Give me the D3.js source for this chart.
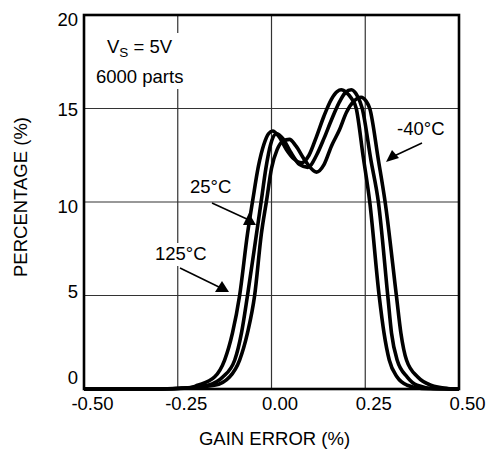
<!DOCTYPE html>
<html>
<head>
<meta charset="utf-8">
<script src="https://cdn.jsdelivr.net/npm/d3@7"></script>
<style>
  body { margin: 0; background: #fff; }
  text { font-family: "Liberation Sans", Arial, sans-serif; fill: #000; }
</style>
</head>
<body>
<svg id="chart" width="489" height="449"></svg>
<script>
// gain error (%) / percentage of parts, one pair of arrays per temperature
const gainA = [-0.50, -0.30, -0.22, -0.197, -0.152, -0.125, -0.104, -0.085, -0.064, -0.05, -0.035, -0.02, -0.008, 0.003, 0.02, 0.04, 0.06, 0.08, 0.10, 0.12, 0.14, 0.16, 0.175, 0.186, 0.20, 0.213, 0.226, 0.244, 0.262, 0.287, 0.30, 0.314, 0.335, 0.362, 0.40, 0.50];
const pctA  = [0, 0, 0.05, 0.2, 0.64, 1.55, 3.0, 5.0, 8.3, 10.1, 11.9, 13.1, 13.65, 13.8, 13.5, 12.8, 12.3, 12.1, 12.5, 13.5, 14.6, 15.5, 15.9, 16.0, 15.85, 15.55, 15.0, 12.5, 10.0, 5.0, 3.0, 1.55, 0.64, 0.2, 0.03, 0];

const gainB = [-0.50, -0.30, -0.23, -0.17, -0.13, -0.098, -0.08, -0.064, -0.04, -0.027, -0.015, -0.002, 0.013, 0.03, 0.05, 0.075, 0.097, 0.12, 0.14, 0.16, 0.18, 0.197, 0.213, 0.228, 0.242, 0.265, 0.285, 0.31, 0.32, 0.335, 0.362, 0.388, 0.43, 0.50];
const pctB  = [0, 0, 0.05, 0.2, 0.64, 1.55, 3.0, 5.0, 8.3, 10.1, 11.8, 13.1, 13.65, 13.4, 12.7, 12.0, 11.85, 12.5, 13.4, 14.4, 15.3, 15.85, 16.0, 15.7, 15.0, 12.25, 10.0, 5.0, 3.0, 1.55, 0.64, 0.2, 0.03, 0];

const gainC = [-0.50, -0.30, -0.24, -0.152, -0.112, -0.085, -0.064, -0.045, -0.027, -0.013, 0.0, 0.015, 0.03, 0.048, 0.065, 0.09, 0.12, 0.14, 0.16, 0.181, 0.20, 0.22, 0.239, 0.252, 0.262, 0.285, 0.303, 0.333, 0.345, 0.36, 0.39, 0.425, 0.47, 0.50];
const pctC  = [0, 0, 0.05, 0.2, 0.64, 1.55, 3.0, 5.0, 8.3, 10.1, 11.8, 12.8, 13.25, 13.35, 13.0, 12.2, 11.6, 12.0, 13.0, 13.85, 14.8, 15.4, 15.6, 15.4, 15.0, 12.25, 10.0, 5.0, 3.0, 1.55, 0.64, 0.2, 0.03, 0];

const xTicks = [-0.50, -0.25, 0.00, 0.25, 0.50];
const yTicks = [0, 5, 10, 15, 20];

const series = [
  d3.zip(gainA, pctA),
  d3.zip(gainB, pctB),
  d3.zip(gainC, pctC)
];

const margin = {top: 15, right: 30, bottom: 60, left: 84};
const width = 489, height = 449;
const fontSize = 18.5;

// hand-set vertical nudges of the y labels, as in the original plot
const yLabelNudge = {0: -6, 5: 1.5, 10: 10, 15: 6.5, 20: 10};

const x = d3.scaleLinear()
  .domain([-0.5, 0.5])
  .range([margin.left, width - margin.right]);

const y = d3.scaleLinear()
  .domain([0, 20])
  .range([height - margin.bottom, margin.top]);

const svg = d3.select("#chart");

// grid
svg.append("g")
    .attr("stroke", "#333")
    .attr("stroke-width", 1.2)
  .selectAll("line")
  .data(xTicks.slice(1, -1))
  .join("line")
    .attr("x1", d => x(d)).attr("x2", d => x(d))
    .attr("y1", y(0)).attr("y2", y(20));

svg.append("g")
    .attr("stroke", "#333")
    .attr("stroke-width", 1.2)
  .selectAll("line")
  .data(yTicks.slice(1, -1))
  .join("line")
    .attr("y1", d => y(d)).attr("y2", d => y(d))
    .attr("x1", x(-0.5)).attr("x2", x(0.5));

// white patches where the notes sit over the grid
svg.append("rect").attr("x", 92).attr("y", 33).attr("width", 100).attr("height", 56).attr("fill", "#fff");
svg.append("rect").attr("x", 153).attr("y", 243).attr("width", 56).attr("height", 23).attr("fill", "#fff");

// frame
svg.append("rect")
    .attr("x", x(-0.5)).attr("y", y(20))
    .attr("width", x(0.5) - x(-0.5))
    .attr("height", y(0) - y(20))
    .attr("fill", "none")
    .attr("stroke", "#000")
    .attr("stroke-width", 2.6);

// axes
svg.append("g")
    .attr("transform", `translate(0,${y(0)})`)
    .call(d3.axisBottom(x).tickValues(xTicks).tickSize(0).tickPadding(8).tickFormat(d => d.toFixed(2)))
    .call(g => g.select(".domain").remove())
    .call(g => g.selectAll("text")
      .attr("x", 8)
      .attr("font-size", fontSize)
      .attr("font-family", null));

svg.append("g")
    .attr("transform", `translate(${x(-0.5)},0)`)
    .call(d3.axisLeft(y).tickValues(yTicks).tickSize(0).tickPadding(6))
    .call(g => g.select(".domain").remove())
    .call(g => g.selectAll("text")
      .attr("dy", null)
      .attr("y", d => yLabelNudge[d])
      .attr("font-size", fontSize)
      .attr("font-family", null));

// axis titles
svg.append("text")
    .attr("x", (x(-0.5) + x(0.5)) / 2 + 3)
    .attr("y", 445)
    .attr("text-anchor", "middle")
    .attr("font-size", fontSize)
    .text("GAIN ERROR (%)");

svg.append("text")
    .attr("transform", "translate(27,197) rotate(-90)")
    .attr("text-anchor", "middle")
    .attr("font-size", fontSize)
    .text("PERCENTAGE (%)");

// curves
const line = d3.line()
  .x(d => x(d[0]))
  .y(d => y(d[1]))
  .curve(d3.curveMonotoneX);

svg.append("g")
    .attr("fill", "none")
    .attr("stroke", "#000")
    .attr("stroke-width", 3.6)
    .attr("stroke-linejoin", "round")
  .selectAll("path")
  .data(series)
  .join("path")
    .attr("d", line);

// notes
const note = svg.append("text")
    .attr("x", 107).attr("y", 53)
    .attr("font-size", fontSize);
note.append("tspan").text("V");
note.append("tspan").attr("font-size", 13.5).attr("dy", 4).text("S");
note.append("tspan").attr("dy", -4).text(" = 5V");

svg.append("text").attr("x", 96).attr("y", 83).attr("font-size", fontSize).text("6000 parts");

svg.append("text").attr("x", 190).attr("y", 193).attr("font-size", fontSize).text("25°C");
svg.append("text").attr("x", 155).attr("y", 260).attr("font-size", fontSize).text("125°C");
svg.append("text").attr("x", 397).attr("y", 135).attr("font-size", fontSize).text("-40°C");

// arrows
const arrows = [
  {line: [[212, 203], [249, 220]], head: [[243, 225], [256, 225], [249, 213]]},
  {line: [[180, 268], [221, 288]], head: [[215, 292], [229, 292], [222, 281]]},
  {line: [[422, 143], [392, 157]], head: [[386, 162], [392, 150], [399, 158]]}
];
arrows.forEach(a => {
  svg.append("line")
      .attr("x1", a.line[0][0]).attr("y1", a.line[0][1])
      .attr("x2", a.line[1][0]).attr("y2", a.line[1][1])
      .attr("stroke", "#000").attr("stroke-width", 1.5);
  svg.append("path")
      .attr("d", "M" + a.head.join("L") + "Z")
      .attr("fill", "#000");
});
</script>
</body>
</html>
